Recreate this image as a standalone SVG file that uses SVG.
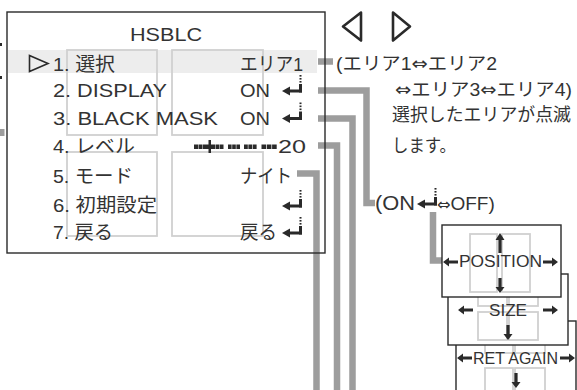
<svg xmlns="http://www.w3.org/2000/svg" width="577" height="390" viewBox="0 0 577 390">
<defs>
<style>
.t{font-family:"Liberation Sans","Noto Sans CJK JP",sans-serif;fill:#333;}
.m{font-size:19px}
.j{font-size:18px}
.b{font-size:16px}
.dj{font-family:"DejaVu Sans",sans-serif}
.con{fill:none;stroke:#9d9d9d;stroke-width:6.5}
.in{fill:none;stroke:#d0d0d0;stroke-width:1.8}
.frame{fill:#fff;stroke:#2a2a2a;stroke-width:1.4}
.edge{fill:none;stroke:#2a2a2a;stroke-width:1.4}
.tri{fill:none;stroke:#2a2a2a;stroke-width:2.6;stroke-linejoin:round}
.blk{fill:#2a2a2a}
</style>
<g id="ret">
<path d="M0,0L8,-4.5V4.5Z"/>
<rect x="7" y="-1.5" width="13" height="3"/>
<rect x="17" y="-7" width="3" height="8.5"/>
<rect x="17.5" y="-10" width="2" height="1.6"/>
<rect x="17.5" y="-13" width="2" height="1.6"/>
<rect x="17.5" y="-16" width="2" height="1.6"/>
</g>
<path id="a15" d="M0,-1.6H9V-4.5L15,0L9,4.5V1.6H0Z"/>
<path id="a20" d="M0,-1.6H13V-4.5L20,0L13,4.5V1.6H0Z"/>
</defs>

<g id="edge-marks">
<rect x="0" y="43" width="2" height="3" class="blk"/>
<rect x="0" y="76" width="2" height="3" class="blk"/>
<rect x="0" y="129" width="4.5" height="7" fill="#9d9d9d"/>
</g>

<g id="menu">
<rect x="7" y="12" width="318" height="241" fill="#fff"/>
<rect x="8" y="50" width="309" height="23" fill="#ededed"/>
<rect class="in" x="67" y="50" width="90" height="85"/>
<rect class="in" x="172" y="50" width="91" height="85"/>
<rect class="in" x="67" y="152" width="90" height="84"/>
<rect class="in" x="172" y="152" width="91" height="84"/>
<polygon points="29.5,55.5 48,63.5 29.5,71.5" fill="none" stroke="#2a2a2a" stroke-width="1.6" stroke-linejoin="miter"/>
<text class="t m" x="130" y="41" textLength="72" lengthAdjust="spacingAndGlyphs">HSBLC</text>
<text class="t m" x="53" y="71" textLength="62" lengthAdjust="spacingAndGlyphs">1. 選択</text>
<text class="t m" x="53" y="97" textLength="114" lengthAdjust="spacingAndGlyphs">2. DISPLAY</text>
<text class="t m" x="53" y="125" textLength="165" lengthAdjust="spacingAndGlyphs">3. BLACK MASK</text>
<text class="t m" x="53" y="153" textLength="82" lengthAdjust="spacingAndGlyphs">4. レベル</text>
<text class="t m" x="53" y="183" textLength="80" lengthAdjust="spacingAndGlyphs">5. モード</text>
<text class="t m" x="53" y="212" textLength="104" lengthAdjust="spacingAndGlyphs">6. 初期設定</text>
<text class="t m" x="53" y="239" textLength="60" lengthAdjust="spacingAndGlyphs">7. 戻る</text>
<text class="t m" x="240" y="71" textLength="63" lengthAdjust="spacingAndGlyphs">エリア1</text>
<text class="t m" x="240" y="97" textLength="30" lengthAdjust="spacingAndGlyphs">ON</text>
<text class="t m" x="240" y="125" textLength="30" lengthAdjust="spacingAndGlyphs">ON</text>
<text class="t m" x="278" y="153" textLength="28" lengthAdjust="spacingAndGlyphs">20</text>
<text class="t m" x="240" y="183" textLength="52" lengthAdjust="spacingAndGlyphs">ナイト</text>
<text class="t m" x="240" y="239" textLength="37" lengthAdjust="spacingAndGlyphs">戻る</text>
<g class="blk">
<use href="#ret" x="282" y="91"/>
<use href="#ret" x="282" y="118.5"/>
<use href="#ret" x="282" y="206"/>
<use href="#ret" x="282" y="233"/>
<rect x="194" y="144.5" width="4" height="4.5"/>
<rect x="198.5" y="144.5" width="4" height="4.5"/>
<rect x="203" y="144.5" width="4" height="4.5"/>
<rect x="207" y="144.5" width="5" height="4.5"/>
<rect x="208.5" y="140" width="2.5" height="13"/>
<rect x="212" y="144.5" width="3.5" height="4.5"/>
<rect x="216" y="144.5" width="3.5" height="4.5"/>
<rect x="220" y="144.5" width="3.5" height="4.5"/>
<rect x="228" y="144.5" width="3.6" height="4.5"/>
<rect x="232.2" y="144.5" width="3.6" height="4.5"/>
<rect x="236.4" y="144.5" width="3.6" height="4.5"/>
<rect x="244" y="144.5" width="3.8" height="4.5"/>
<rect x="248.4" y="144.5" width="3.8" height="4.5"/>
<rect x="252.8" y="144.5" width="3.8" height="4.5"/>
<rect x="261.5" y="144.5" width="4.6" height="4.5"/>
<rect x="266.8" y="144.5" width="4.6" height="4.5"/>
<rect x="272.1" y="144.5" width="4.6" height="4.5"/>
</g>
</g>

<g id="connectors" class="con">
<path d="M318,61.5H333"/>
<path d="M318,90.5H366.5V203H375"/>
<path d="M318,118.5H352.5V392"/>
<path d="M318,145.5H337V392"/>
<path d="M297,173.5H316.5V392"/>
<path d="M433,212V260.5H442"/>
</g>

<rect id="menu-frame" class="edge" x="7" y="12" width="318" height="241"/>

<g id="nav-arrows">
<polygon class="tri" points="361,12.5 343,26.5 361,40.5"/>
<polygon class="tri" points="393,12.5 410,26.5 393,40.5"/>
</g>

<g id="notes">
<text class="t j" x="336" y="70" textLength="161" lengthAdjust="spacingAndGlyphs">(エリア1<tspan class="dj">⇔</tspan>エリア2</text>
<text class="t j" x="395" y="96" textLength="177" lengthAdjust="spacingAndGlyphs"><tspan class="dj">⇔</tspan>エリア3<tspan class="dj">⇔</tspan>エリア4)</text>
<text class="t j" x="392" y="121" textLength="179" lengthAdjust="spacingAndGlyphs">選択したエリアが点滅</text>
<text class="t j" x="392" y="152" textLength="64" lengthAdjust="spacingAndGlyphs">します。</text>
</g>

<g id="onoff">
<text class="t" x="375" y="210" font-size="20" textLength="40" lengthAdjust="spacingAndGlyphs">(ON</text>
<use href="#ret" x="417" y="204" class="blk"/>
<text class="t" x="437" y="210" font-size="19"><tspan class="dj" font-size="16">⇔</tspan>OFF)</text>
</g>

<g id="ret-again">
<rect class="frame" x="456" y="321" width="120" height="75"/>
<rect class="in" x="485" y="333" width="28" height="20"/>
<rect class="in" x="515" y="333" width="30" height="20"/>
<rect class="in" x="485" y="368" width="28" height="30"/>
<rect class="in" x="515" y="368" width="30" height="30"/>
<g class="blk">
<use href="#a15" transform="translate(472,358) rotate(180)"/>
<use href="#a15" transform="translate(560,358)"/>
<use href="#a15" transform="translate(516,373) rotate(90)"/>
</g>
<text class="t b" x="473" y="364" textLength="85" lengthAdjust="spacingAndGlyphs">RET AGAIN</text>
</g>

<g id="size">
<rect class="frame" x="448" y="274" width="120" height="71"/>
<rect class="in" x="478" y="285" width="29" height="21"/>
<rect class="in" x="509" y="285" width="29" height="21"/>
<rect class="in" x="478" y="312" width="29" height="28"/>
<rect class="in" x="509" y="312" width="29" height="28"/>
<g class="blk">
<use href="#a15" transform="translate(473,310) rotate(180)"/>
<use href="#a15" transform="translate(543,310)"/>
<use href="#a15" transform="translate(508,325) rotate(90)"/>
</g>
<text class="t b" x="489" y="316" textLength="38" lengthAdjust="spacingAndGlyphs">SIZE</text>
</g>

<g id="position">
<rect class="frame" x="442" y="225" width="119" height="72"/>
<rect class="in" x="470" y="234" width="27" height="58"/>
<rect class="in" x="502" y="234" width="28" height="58"/>
<g class="blk">
<use href="#a15" transform="translate(458,262) rotate(180)"/>
<use href="#a15" transform="translate(543,262)"/>
<use href="#a20" transform="translate(500,253) rotate(-90)"/>
<use href="#a15" transform="translate(500,278) rotate(90)"/>
</g>
<text class="t b" x="459" y="267" textLength="83" lengthAdjust="spacingAndGlyphs">POSITION</text>
</g>
</svg>
